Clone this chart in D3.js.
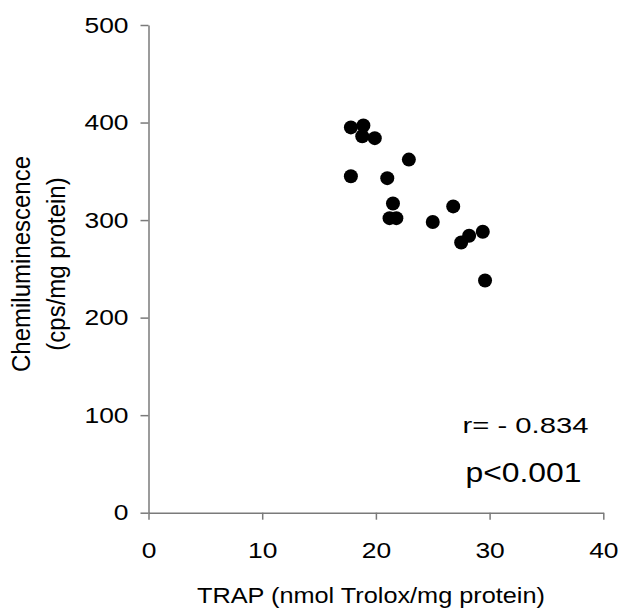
<!DOCTYPE html>
<html>
<head>
<meta charset="utf-8">
<script src="https://cdn.jsdelivr.net/npm/d3@7"></script>
<style>
    body { margin: 0; background: #fff; }
    svg { display: block; }
    text { font-family: "Liberation Sans", Arial, sans-serif; fill: #000; }
</style>
</head>
<body>
<div id="chart-area"></div>
<script>
const WIDTH = 624;
const HEIGHT = 615;
const AXIS_COLOR = '#7a7a7a'

// TRAP (x) and chemiluminescence (y), one entry per sample
const trapValues = [17.8, 18.9, 18.8, 19.9, 22.9, 17.8, 21.0, 21.5, 21.2, 21.8, 26.8, 25.0, 28.2, 27.5, 29.4, 29.6];
const clValues = [395, 397, 386, 384, 362, 345, 343, 317, 302, 302, 314, 298, 284, 277, 288, 238];
const xTicks = [0, 10, 20, 30, 40];
const yTicks = [0, 100, 200, 300, 400, 500];
const yTitleLines = ["Chemiluminescence", "(cps/mg protein)"];
const xTitle = "TRAP (nmol Trolox/mg protein)";
const statLines = ["r= - 0.834", "p<0.001"];

function render() {
    const svg = d3.select("#chart-area").append("svg")
        .attr("width", WIDTH)
        .attr("height", HEIGHT);

    const x = d3.scaleLinear()
        .domain([0, 40])
        .range([148.5, 603.3]);
    const y = d3.scaleLinear()
        .domain([0, 500])
        .range([512.7, 25]);

    const data = trapValues.map((t, i) => ({ trap: t, cl: clValues[i] }));

    // axes
    const xAxis = svg.append("g")
        .attr("transform", "translate(0," + y(0) + ")")
        .call(d3.axisBottom(x).tickValues(xTicks).tickSize(7).tickSizeOuter(0));
    xAxis.selectAll("text")
        .attr("y", 0)
        .attr("transform", "translate(0,30) scale(1.2,1)")
        .style("font-size", "22px");

    const yAxis = svg.append("g")
        .attr("transform", "translate(" + x(0) + ",0)")
        .call(d3.axisLeft(y).tickValues(yTicks).tickSize(8).tickSizeOuter(0));
    yAxis.selectAll("text")
        .attr("x", 0)
        .attr("transform", "translate(-20,0) scale(1.2,1)")
        .style("font-size", "22px");

    svg.selectAll(".domain, .tick line")
        .attr("stroke", AXIS_COLOR)
        .attr("stroke-width", 1.5);

    // points
    svg.selectAll("circle")
        .data(data)
        .enter()
        .append("circle")
        .attr("cx", function (d) { return x(d.trap) })
        .attr("cy", function (d) { return y(d.cl) })
        .attr("r", 7)
        .attr("fill", "#000");

    // axis titles
    svg.append("text")
        .attr("transform", "translate(371,603) scale(1.15,1)")
        .attr("text-anchor", "middle")
        .style("font-size", "22px")
        .text(xTitle);

    svg.selectAll(".ytitle")
        .data(yTitleLines)
        .enter()
        .append("text")
        .attr("class", "ytitle")
        .attr("transform", function (d, i) { return "translate(" + (30 + i * 35) + ",264) scale(1.1,1) rotate(-90)" })
        .attr("text-anchor", "middle")
        .style("font-size", "24px")
        .text(function (d) { return d });

    // correlation stats
    svg.append("text")
        .attr("transform", "translate(588.5,433) scale(1.3,1)")
        .attr("text-anchor", "end")
        .style("font-size", "22.5px")
        .text(statLines[0]);
    svg.append("text")
        .attr("transform", "translate(581.5,482) scale(1.18,1)")
        .attr("text-anchor", "end")
        .style("font-size", "27px")
        .text(statLines[1]);
}

render();
</script>
</body>
</html>
